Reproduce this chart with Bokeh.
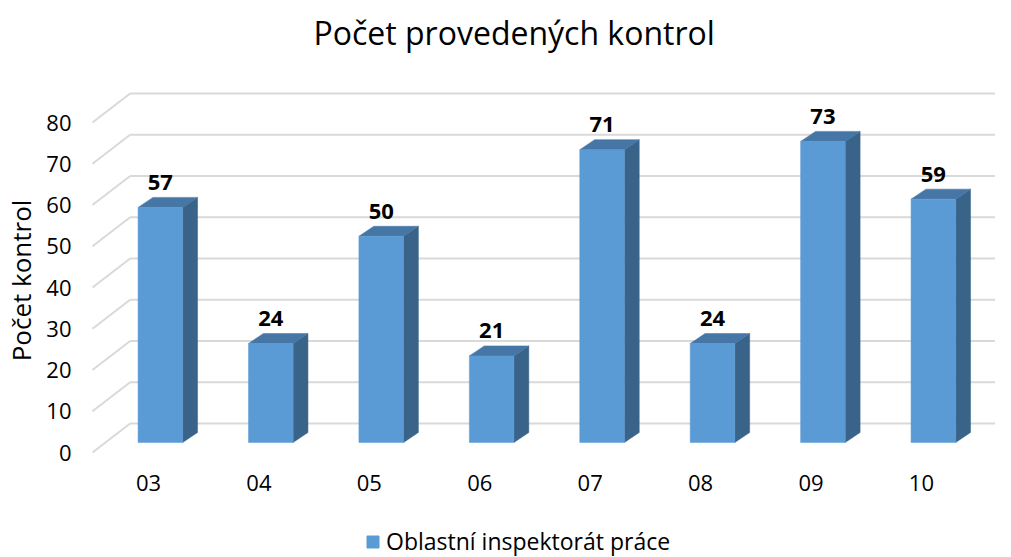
from bokeh.plotting import figure
from bokeh.layouts import column
from bokeh.models import (Range1d, LinearAxis, FixedTicker, Legend, LegendItem,
                          ColumnDataSource)
from bokeh.core.properties import value
from bokeh.embed import file_html
from bokeh.resources import INLINE

# ---- data ----
months = ["03", "04", "05", "06", "07", "08", "09", "10"]
counts = [57, 24, 50, 21, 71, 24, 73, 59]
y_ticks = [0, 10, 20, 30, 40, 50, 60, 70, 80]
title_text = "Počet provedených kontrol"
y_title = "Počet kontrol"
series_name = "Oblastní inspektorát práce"

FONT = "Open Sans"
FRONT = "#5B9BD5"
SIDE = "#3A638A"
TOP = "#4676A5"
GRID = "#D9D9D9"

# ---- geometry (pixels -> data units) ----
W, HT, H1, H2 = 995, 62, 464, 31
BL, BR, BT, BB = 80, 0, 28, 56
FW = W - BL - BR
FH = H1 - BT - BB
px_per_cat = 111.4
px_per_val = 4.125
x_start = -72.5 / px_per_cat
x_end = x_start + FW / px_per_cat
y_start = -28.0 / px_per_val
y_end = y_start + FH / px_per_val

half_w = 22.5 / px_per_cat
dx = 15.0 / px_per_cat
dy = 10.0 / px_per_val
back_x = -30.5 / px_per_cat
back_dy = 19.0 / px_per_val
front_x = -68.5 / px_per_cat
front_dy = -10.0 / px_per_val
label_shift = 12.0 / px_per_cat


def strip(height, **kw):
    f = figure(width=W, height=height, output_backend="svg", toolbar_location=None,
               x_range=Range1d(0, 1), y_range=Range1d(0, 1),
               outline_line_color=None, x_axis_location=None,
               y_axis_location=None, **kw)
    f.xgrid.visible = False
    f.ygrid.visible = False
    return f


# ---- title strip ----
tf = strip(HT, min_border_top=55, min_border_bottom=0, min_border_left=BL,
           min_border_right=BR)
tf.title.text = title_text
tf.title.align = "left"
tf.title.offset = 225
tf.title.text_font = FONT
tf.title.text_font_size = "32px"
tf.title.text_font_style = "normal"
tf.title.text_color = "black"
tf.title.standoff = 4

# ---- main chart ----
p = figure(width=W, height=H1, output_backend="svg", toolbar_location=None,
           x_range=Range1d(x_start, x_end), y_range=Range1d(y_start, y_end),
           min_border_left=BL, min_border_right=BR, min_border_top=BT,
           min_border_bottom=BB, outline_line_color=None, y_axis_location=None,
           x_axis_location=None)
p.xgrid.visible = False
p.ygrid.visible = False
p.background_fill_color = "white"
p.border_fill_color = "white"

# gridlines: back wall + floor diagonal
gx0 = [back_x] * len(y_ticks)
gx1 = [x_end] * len(y_ticks)
gy = [t + back_dy for t in y_ticks]
p.segment(x0=gx0, y0=gy, x1=gx1, y1=gy, line_color=GRID, line_width=2)
p.segment(x0=[front_x] * len(y_ticks), y0=[t + front_dy for t in y_ticks],
          x1=gx0, y1=gy, line_color=GRID, line_width=2)

# 3D bars
xs_front, ys_front, xs_side, ys_side, xs_top, ys_top = [], [], [], [], [], []
for i, v in enumerate(counts):
    l, r = i - half_w, i + half_w
    xs_front.append([l, r, r, l]); ys_front.append([0, 0, v, v])
    xs_side.append([r, r + dx, r + dx, r]); ys_side.append([0, dy, v + dy, v])
    xs_top.append([l, r, r + dx, l + dx]); ys_top.append([v, v, v + dy, v + dy])

p.patches(xs_side, ys_side, fill_color=SIDE, line_color=SIDE, line_width=0.5)
p.patches(xs_top, ys_top, fill_color=TOP, line_color=TOP, line_width=0.5)
p.patches(xs_front, ys_front, fill_color=FRONT, line_color=FRONT, line_width=0.5)

# data labels
src = ColumnDataSource(dict(x=list(range(len(counts))), y=counts,
                            t=[str(c) for c in counts]))
p.text(x="x", y="y", text="t", source=src, y_offset=-25, text_align="center",
       text_baseline="alphabetic", text_font=value(FONT), text_font_size="22px",
       text_font_style="bold", text_color="black")

# axes
shift = -front_dy
p.extra_y_ranges = {"ax": Range1d(y_start + shift, y_end + shift)}
yax = LinearAxis(y_range_name="ax", ticker=FixedTicker(ticks=y_ticks),
                 axis_label=y_title)
yax.axis_line_color = None
yax.major_tick_line_color = None
yax.minor_tick_line_color = None
yax.major_tick_out = 0
yax.major_tick_in = 0
yax.major_label_standoff = 17
yax.major_label_text_font = FONT
yax.major_label_text_font_size = "22px"
yax.major_label_text_color = "black"
yax.axis_label_text_font = FONT
yax.axis_label_text_font_size = "26px"
yax.axis_label_text_font_style = "normal"
yax.axis_label_text_color = "black"
yax.axis_label_standoff = 4
p.add_layout(yax, "left")

p.extra_x_ranges = {"ax": Range1d(x_start + label_shift, x_end + label_shift)}
xax = LinearAxis(x_range_name="ax", ticker=FixedTicker(ticks=list(range(len(months)))),
                 major_label_overrides={i: m for i, m in enumerate(months)})
xax.axis_line_color = None
xax.major_tick_line_color = None
xax.minor_tick_line_color = None
xax.major_tick_out = 0
xax.major_tick_in = 0
xax.major_label_standoff = 4
xax.major_label_text_font = FONT
xax.major_label_text_font_size = "22px"
xax.major_label_text_color = "black"
p.add_layout(xax, "below")

# ---- legend strip ----
lg = strip(H2, min_border=0)
swatch = lg.patches(xs_front, ys_front, fill_color=FRONT, line_color=FRONT,
                    visible=False)
legend = Legend(items=[LegendItem(label=series_name, renderers=[swatch])],
                orientation="horizontal", location=(277, 0),
                label_text_font=FONT, label_text_font_size="23px",
                label_text_color="black", border_line_color=None,
                background_fill_alpha=0, glyph_width=15, glyph_height=15,
                label_standoff=6, padding=0, margin=0,
                inactive_fill_alpha=0)
lg.add_layout(legend)

layout = column(tf, p, lg, spacing=0)
open("out.html", "w").write(file_html(layout, INLINE))
